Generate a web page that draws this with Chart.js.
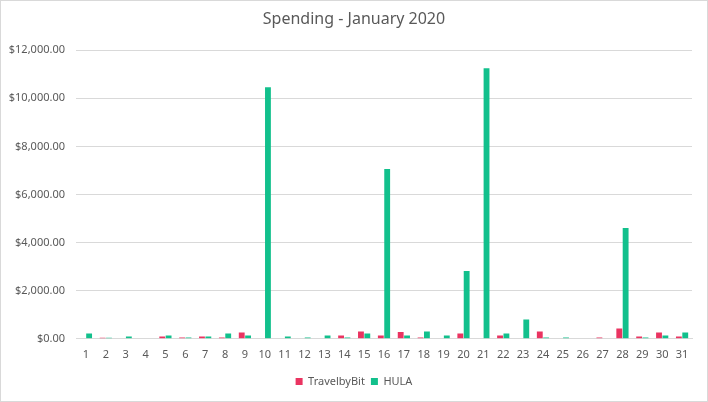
<!DOCTYPE html>
<html>
<head>
<meta charset="utf-8">
<script src="https://cdn.jsdelivr.net/npm/chart.js@4"></script>
<style>
  body { margin: 0; background: #fff; }
  #wrap { width: 706px; height: 400px; border: 1px solid #d9d9d9; }
</style>
</head>
<body>
<div id="wrap"><canvas id="js-barChart" width="706" height="400"></canvas></div>
<script>
// data
var days = ["1","2","3","4","5","6","7","8","9","10","11","12","13","14","15","16",
            "17","18","19","20","21","22","23","24","25","26","27","28","29","30","31"];
var travelbybit = [0, 40, 0, 0, 100, 55, 95, 55, 260, 0, 0, 0, 0, 140, 300, 140,
                   280, 55, 0, 220, 0, 140, 0, 300, 0, 0, 55, 430, 95, 260, 95];
var hula = [220, 40, 100, 0, 140, 55, 95, 220, 140, 10460, 95, 55, 140, 55, 220, 7060,
            140, 300, 140, 2820, 11250, 220, 800, 55, 55, 0, 0, 4610, 55, 140, 260];
var yTicks = [0, 2000, 4000, 6000, 8000, 10000, 12000];

var textColor = '#595959';
var gridColor = '#d9d9d9';
var fontFamily = "'Noto Sans', 'Open Sans', sans-serif";

var ctx = document.getElementById("js-barChart").getContext("2d");
var myChart = new Chart(ctx, {
    type: 'bar',
    data: {
        labels: days,
        datasets: [{
            label: 'TravelbyBit',
            data: travelbybit,
            backgroundColor: '#EA3461',
            categoryPercentage: 0.64,
            barPercentage: 0.92
            },
            {
            label: 'HULA',
            data: hula,
            backgroundColor: '#12C08C',
            categoryPercentage: 0.64,
            barPercentage: 0.92
            }
        ]
    },
    options: {
        responsive: false,
        animation: false,
        layout: {
            padding: { left: 0, right: 0, top: 0, bottom: 4 }
        },
        plugins: {
            title: {
                display: true,
                text: 'Spending - January 2020',
                color: textColor,
                font: { family: fontFamily, size: 16, weight: 'normal' },
                padding: { top: 9, bottom: 21 }
            },
            legend: {
                position: 'bottom',
                labels: {
                    color: textColor,
                    font: { family: fontFamily, size: 11 },
                    boxWidth: 7,
                    boxHeight: 7,
                    padding: 6
                }
            },
            tooltip: { enabled: false }
        },
        scales: {
            x: {
                grid: { display: false, drawTicks: false },
                border: { color: gridColor },
                ticks: {
                    color: textColor,
                    font: { family: fontFamily, size: 11 },
                    padding: 9,
                    maxRotation: 0,
                    autoSkip: false
                }
            },
            y: {
                min: 0,
                max: 12000,
                afterBuildTicks: function (scale) {
                    scale.ticks = yTicks.map(function (v) { return { value: v }; });
                },
                afterFit: function (scale) { scale.width = 75; },
                grid: { color: gridColor, drawTicks: false },
                border: { display: false },
                ticks: {
                    color: textColor,
                    font: { family: fontFamily, size: 11 },
                    padding: 11,
                    callback: function (v) {
                        return '$' + v.toLocaleString('en-US', { minimumFractionDigits: 2, maximumFractionDigits: 2 });
                    }
                }
            },
            // empty right-hand gutter, keeps title and legend centred on the page
            gutter: {
                type: 'linear',
                position: 'right',
                afterFit: function (scale) { scale.width = 15; },
                grid: { display: false, drawTicks: false },
                border: { display: false },
                ticks: { display: false }
            }
        }
    }
});
</script>
</body>
</html>
